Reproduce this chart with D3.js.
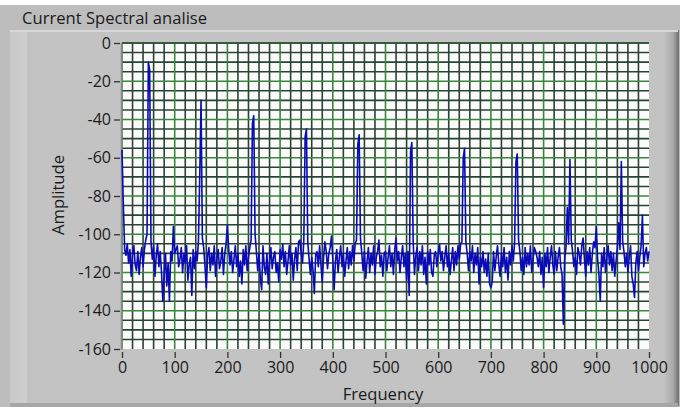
<!DOCTYPE html>
<html><head><meta charset="utf-8">
<script src="https://cdn.jsdelivr.net/npm/d3@7"></script>
<style>html,body{margin:0;padding:0;background:#fff;}svg{display:block;}</style>
</head><body>
<svg id="chart" width="688" height="407"></svg>
<script>
// ---- data ----
const title = "Current Spectral analise";
const xLabel = "Frequency";
const yLabel = "Amplitude";
const freqStep = 2.5; // Hz between samples
const amplitude = [
 -56,-84,-108,-111,-105,-115,-108,-122,-110,-106,
 -116,-119,-109,-121,-112,-107,-117,-108,-103,-100,
 -10,-14,-104,-113,-106,-122,-111,-105,-117,-109,
 -120,-135,-121,-110,-127,-115,-135,-109,-114,-96,
 -110,-108,-106,-117,-113,-107,-120,-110,-115,-106,
 -124,-116,-112,-132,-108,-118,-109,-114,-104,-70,
 -30,-102,-107,-117,-128,-111,-107,-119,-110,-116,
 -106,-122,-113,-108,-118,-114,-107,-121,-110,-105,
 -95,-108,-116,-109,-120,-113,-106,-117,-110,-122,
 -114,-126,-108,-116,-106,-119,-112,-107,-103,-42,
 -38,-100,-109,-119,-110,-123,-129,-106,-117,-121,
 -110,-126,-114,-107,-118,-112,-109,-120,-115,-125,
 -108,-113,-105,-117,-109,-121,-114,-106,-116,-110,
 -124,-113,-107,-119,-104,-103,-110,-115,-103,-49,
 -45,-104,-113,-121,-112,-119,-131,-111,-109,-117,
 -106,-116,-125,-112,-104,-109,-118,-110,-107,-101,
 -113,-129,-114,-108,-120,-112,-106,-117,-110,-122,
 -114,-107,-118,-109,-116,-106,-114,-105,-103,-53,
 -48,-102,-110,-119,-109,-123,-114,-107,-120,-110,
 -116,-106,-121,-112,-109,-103,-117,-111,-122,-110,
 -109,-119,-112,-106,-117,-110,-121,-108,-102,-114,
 -109,-120,-112,-106,-117,-110,-124,-109,-132,-57,
 -52,-104,-121,-111,-107,-119,-109,-116,-106,-121,
 -112,-126,-109,-116,-108,-120,-122,-111,-109,-117,
 -110,-105,-114,-109,-119,-112,-106,-117,-110,-121,
 -114,-107,-119,-109,-116,-106,-113,-105,-104,-60,
 -55,-104,-110,-119,-109,-114,-106,-120,-110,-116,
 -107,-126,-112,-117,-109,-120,-113,-122,-110,-126,
 -128,-125,-109,-119,-112,-106,-116,-122,-110,-117,
 -107,-120,-112,-124,-109,-116,-106,-114,-104,-62,
 -58,-103,-109,-119,-112,-121,-107,-117,-110,-116,
 -106,-120,-113,-107,-109,-112,-117,-109,-121,-112,
 -128,-110,-117,-107,-120,-112,-106,-116,-121,-109,
 -119,-112,-107,-117,-121,-147,-113,-107,-86,-105,
 -61,-103,-109,-117,-112,-121,-107,-110,-116,-106,
 -102,-113,-122,-109,-116,-107,-120,-110,-104,-107,
 -96,-113,-121,-135,-110,-117,-107,-120,-112,-106,
 -116,-109,-119,-110,-122,-114,-107,-94,-108,-62,
 -104,-109,-117,-110,-120,-112,-106,-122,-126,-133,
 -115,-109,-119,-112,-106,-90,-117,-110,-107,-114,
 -109
];
const xTicks = [0,100,200,300,400,500,600,700,800,900,1000];
const yTicks = [0,-20,-40,-60,-80,-100,-120,-140,-160];
const xDomain = [0, 1000];
const yDomain = [-160, 0];
const xMinorStep = 20, yMinorStep = 5;

// ---- drawing ----
const svg = d3.select("#chart");
const FONT = "'Open Sans', 'DejaVu Sans', sans-serif";
const defs = svg.append("defs");
const gR = defs.append("linearGradient").attr("id","bevelR").attr("x1","0").attr("x2","1");
gR.append("stop").attr("offset","0").attr("stop-color","#c2c2c2");
gR.append("stop").attr("offset","0.6").attr("stop-color","#a9a9a9");
gR.append("stop").attr("offset","1").attr("stop-color","#6e6e6e");
const gL = defs.append("linearGradient").attr("id","bevelL").attr("x1","0").attr("x2","1");
gL.append("stop").attr("offset","0").attr("stop-color","#c9c9c9");
gL.append("stop").attr("offset","1").attr("stop-color","#cfcfcf");

// outer panel
svg.append("rect").attr("x",0).attr("y",5).attr("width",680).attr("height",402).attr("fill","#bdbdbd");
// frame
svg.append("rect").attr("x",10).attr("y",30).attr("width",668).attr("height",376).attr("fill","#c3c3c3");
svg.append("rect").attr("x",10).attr("y",30).attr("width",17).attr("height",376).attr("fill","url(#bevelL)");
svg.append("rect").attr("x",664).attr("y",30).attr("width",15).attr("height",376).attr("fill","url(#bevelR)");
svg.append("rect").attr("x",10).attr("y",30).attr("width",668).attr("height",2).attr("fill","#d8d8d8");
svg.append("rect").attr("x",10).attr("y",403).attr("width",668).attr("height",4).attr("fill","#a6a6a6");

svg.append("text").attr("x",22).attr("y",24).attr("font-family",FONT).attr("font-size",16.6)
  .attr("fill","#1a1a1a").text(title);

const x = d3.scaleLinear().domain(xDomain).range([122, 649]);
const y = d3.scaleLinear().domain(yDomain).range([349, 43]);

// plot background
svg.append("rect").attr("x",x(0)).attr("y",y(0)).attr("width",x(1000)-x(0)).attr("height",y(-160)-y(0))
  .attr("fill","#fbfbfb");

const MINOR = "#284430", MAJOR = "#3a873a", GW = 1.6;
const gGrid = svg.append("g");
const xMinor = d3.range(xDomain[0], xDomain[1], xMinorStep);
const yMinor = d3.range(yDomain[1], yDomain[0], -yMinorStep);
gGrid.selectAll(".vm").data(xMinor.filter(d=>d%100!==0)).join("line")
  .attr("x1",d=>x(d)).attr("x2",d=>x(d)).attr("y1",y(0)).attr("y2",y(-160))
  .attr("stroke", MINOR).attr("stroke-width",GW);
gGrid.selectAll(".hm").data(yMinor.filter(d=>d%20!==0)).join("line")
  .attr("x1",x(0)).attr("x2",x(1000)).attr("y1",d=>y(d)).attr("y2",d=>y(d))
  .attr("stroke", MINOR).attr("stroke-width",GW);
gGrid.selectAll(".vM").data(xMinor.filter(d=>d%100===0)).join("line")
  .attr("x1",d=>x(d)).attr("x2",d=>x(d)).attr("y1",y(0)).attr("y2",y(-160))
  .attr("stroke",MAJOR).attr("stroke-width",GW);
gGrid.selectAll(".hM").data(yMinor.filter(d=>d%20===0)).join("line")
  .attr("x1",x(0)).attr("x2",x(1000)).attr("y1",d=>y(d)).attr("y2",d=>y(d))
  .attr("stroke",MAJOR).attr("stroke-width",GW);
gGrid.append("line").attr("x1",x(0)).attr("x2",x(1000)).attr("y1",y(0)).attr("y2",y(0))
  .attr("stroke",MINOR).attr("stroke-width",GW);

// left axis line
svg.append("line").attr("x1",x(0)-0.5).attr("x2",x(0)-0.5).attr("y1",y(0)).attr("y2",y(-160)+1)
  .attr("stroke","#8a8a8a").attr("stroke-width",1.5);

// trace
const line = d3.line().x((d,i)=>x(i*freqStep)).y(d=>y(d));
svg.append("path").datum(amplitude).attr("d",line).attr("fill","none")
  .attr("stroke","#0a0ab8").attr("stroke-width",1.6).attr("stroke-linejoin","round");

// y axis
const yAx = d3.axisLeft(y).tickValues(yTicks).tickSize(6).tickPadding(3).tickFormat(d3.format("d"));
const gy = svg.append("g").attr("transform",`translate(${x(0)-2},0)`).call(yAx);
gy.select(".domain").remove();
gy.selectAll(".tick line").attr("stroke","#333").attr("stroke-width",1.3);
gy.selectAll(".tick text").attr("font-family",FONT).attr("font-size",16).attr("fill","#1a1a1a")
  .text(d => d < 0 ? "-" + Math.abs(d) : d);

// x axis
const xAx = d3.axisBottom(x).tickValues(xTicks).tickSize(6).tickPadding(4).tickFormat(d3.format("d"));
const gx = svg.append("g").attr("transform",`translate(0,${y(-160)+3})`).call(xAx);
gx.select(".domain").remove();
gx.selectAll(".tick line").attr("stroke","#333").attr("stroke-width",1.3);
gx.selectAll(".tick text").attr("font-family",FONT).attr("font-size",16).attr("fill","#1a1a1a");

svg.append("text").attr("x",383).attr("y",400).attr("text-anchor","middle")
  .attr("font-family",FONT).attr("font-size",16.6).attr("fill","#1a1a1a").text(xLabel);
svg.append("text").attr("transform","translate(64,195) rotate(-90)").attr("text-anchor","middle")
  .attr("font-family",FONT).attr("font-size",16.6).attr("fill","#1a1a1a").text(yLabel);
</script>
</body></html>
